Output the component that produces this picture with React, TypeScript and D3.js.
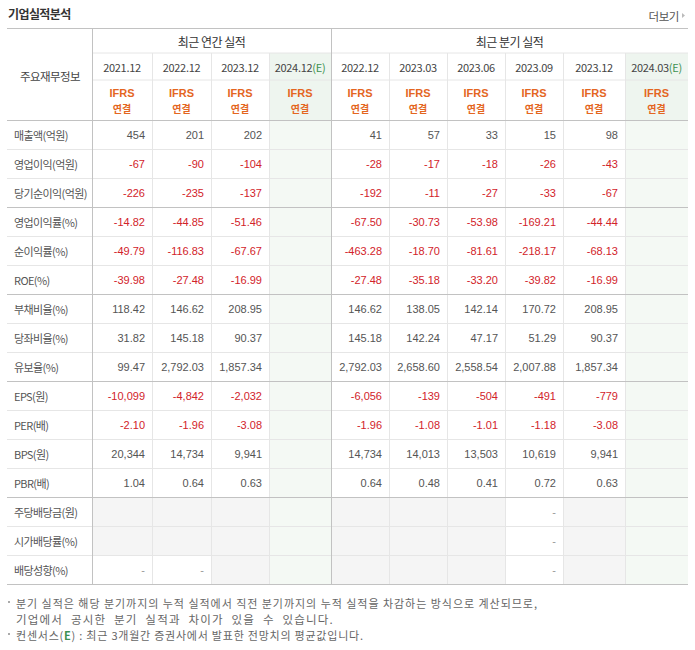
import React from 'react';
import * as d3 from 'd3';

type Cell = number | '-' | null;

const rowLabels = [
  '매출액(억원)', '영업이익(억원)', '당기순이익(억원)',
  '영업이익률(%)', '순이익률(%)', 'ROE(%)',
  '부채비율(%)', '당좌비율(%)', '유보율(%)',
  'EPS(원)', 'PER(배)', 'BPS(원)', 'PBR(배)',
  '주당배당금(원)', '시가배당률(%)', '배당성향(%)',
];
const rowDecimals = [0, 0, 0, 2, 2, 2, 2, 2, 2, 0, 2, 0, 2, 0, 2, 2];
const dividendRows = ['주당배당금(원)', '시가배당률(%)', '배당성향(%)'];

const annualPeriods = ['2021.12', '2022.12', '2023.12', '2024.12'];
const annualEstimate = [false, false, false, true];
const quarterPeriods = ['2022.12', '2023.03', '2023.06', '2023.09', '2023.12', '2024.03'];
const quarterEstimate = [false, false, false, false, false, true];

const annualValues: Cell[][] = [
  [454, 201, 202, null],
  [-67, -90, -104, null],
  [-226, -235, -137, null],
  [-14.82, -44.85, -51.46, null],
  [-49.79, -116.83, -67.67, null],
  [-39.98, -27.48, -16.99, null],
  [118.42, 146.62, 208.95, null],
  [31.82, 145.18, 90.37, null],
  [99.47, 2792.03, 1857.34, null],
  [-10099, -4842, -2032, null],
  [-2.10, -1.96, -3.08, null],
  [20344, 14734, 9941, null],
  [1.04, 0.64, 0.63, null],
  [null, null, null, null],
  [null, null, null, null],
  ['-', '-', null, null],
];

const quarterValues: Cell[][] = [
  [41, 57, 33, 15, 98, null],
  [-28, -17, -18, -26, -43, null],
  [-192, -11, -27, -33, -67, null],
  [-67.50, -30.73, -53.98, -169.21, -44.44, null],
  [-463.28, -18.70, -81.61, -218.17, -68.13, null],
  [-27.48, -35.18, -33.20, -39.82, -16.99, null],
  [146.62, 138.05, 142.14, 170.72, 208.95, null],
  [145.18, 142.24, 47.17, 51.29, 90.37, null],
  [2792.03, 2658.60, 2558.54, 2007.88, 1857.34, null],
  [-6056, -139, -504, -491, -779, null],
  [-1.96, -1.08, -1.01, -1.18, -3.08, null],
  [14734, 14013, 13503, 10619, 9941, null],
  [0.64, 0.48, 0.41, 0.72, 0.63, null],
  [null, null, null, '-', null, null],
  [null, null, null, '-', null, null],
  [null, null, null, '-', null, null],
];

const titleText = '기업실적분석';
const moreText = '더보기';
const headerLabel = '주요재무정보';
const annualGroupTitle = '최근 연간 실적';
const quarterGroupTitle = '최근 분기 실적';
const basisLine1 = 'IFRS';
const basisLine2 = '연결';
const footnote1 = '분기 실적은 해당 분기까지의 누적 실적에서 직전 분기까지의 누적 실적을 차감하는 방식으로 계산되므로,';
const footnote2 = '기업에서 공시한 분기 실적과 차이가 있을 수 있습니다.';
const footnote3a = '컨센서스(';
const footnote3b = 'E';
const footnote3c = ') : 최근 3개월간 증권사에서 발표한 전망치의 평균값입니다.';

// ---- layout ----
const W = 695;
const H = 650;
const tableLeft = 7;
const tableRight = 688;
const labelRight = 92;
const colEdges = [92, 152, 211, 269, 331, 389, 447, 505, 563, 625, 688];
const headTop = 28.5;
const head1 = 53;
const head2 = 80;
const bodyTop = 120;
const bodyBottom = 584;
const groupSizes = [3, 3, 3, 4, 3];

const KR = "'Noto Sans CJK KR', 'Noto Sans', sans-serif";
const NUM = "'Liberation Sans', Arial, sans-serif";
const C_MAJOR = '#c2c2c2';
const C_MINOR = '#e6e6e6';
const C_EST_HEAD = '#eef5ef';
const C_EST_BODY = '#f4f9f4';
const C_DIV = '#f5f5f5';
const C_POS = '#555555';
const C_NEG = '#d2232a';
const C_IFRS = '#e4661f';
const C_E = '#3d9150';

const locale = d3.formatLocale({ decimal: '.', thousands: ',', grouping: [3], currency: ['', ''], minus: '-' });
const fmt0 = locale.format(',.0f');
const fmt2 = locale.format(',.2f');

interface Col { key: string; period: string; est: boolean; values: Cell[] }

export default function App() {
  const cols: Col[] = [
    ...annualPeriods.map((p, i) => ({ key: 'A' + i, period: p, est: annualEstimate[i], values: annualValues.map(r => r[i]) })),
    ...quarterPeriods.map((p, i) => ({ key: 'Q' + i, period: p, est: quarterEstimate[i], values: quarterValues.map(r => r[i]) })),
  ];
  const keys = cols.map(c => c.key);
  const xL = d3.scaleOrdinal<string, number>().domain(keys).range(colEdges.slice(0, -1));
  const xR = d3.scaleOrdinal<string, number>().domain(keys).range(colEdges.slice(1));
  const y = d3.scaleBand<string>().domain(rowLabels).range([bodyTop, bodyBottom]);
  const bw = y.bandwidth();

  const majorRowLines: number[] = [];
  let acc = 0;
  groupSizes.forEach(g => { acc += g; majorRowLines.push(bodyTop + acc * bw); });

  const annualMid = (colEdges[0] + colEdges[4]) / 2;
  const quarterMid = (colEdges[4] + colEdges[10]) / 2;

  return (
    <svg width={W} height={H} style={{ position: 'absolute', left: 0, top: 0, background: '#fff' }}>
      {/* title */}
      <text x={8} y={19} fontFamily={KR} fontSize={12} fontWeight={700} fill="#333" letterSpacing={-0.6}>{titleText}</text>
      <text x={679} y={21} fontFamily={KR} fontSize={11.5} fill="#555" textAnchor="end" letterSpacing={-0.4}>{moreText}</text>
      <path d="M682,13 L685,15.5 L682,18 Z" fill="#bbb" />

      {/* backgrounds */}
      {cols.map(c => c.est && (
        <g key={'estbg' + c.key}>
          <rect x={xL(c.key)} y={head1} width={xR(c.key) - xL(c.key)} height={bodyTop - head1} fill={C_EST_HEAD} />
          <rect x={xL(c.key)} y={bodyTop} width={xR(c.key) - xL(c.key)} height={bodyBottom - bodyTop} fill={C_EST_BODY} />
        </g>
      ))}
      {dividendRows.map(r => {
        const ri = rowLabels.indexOf(r);
        return cols.map(c => (!c.est && c.values[ri] === null) ? (
          <rect key={'dbg' + r + c.key} x={xL(c.key)} y={y(r)} width={xR(c.key) - xL(c.key)} height={bw} fill={C_DIV} />
        ) : null);
      })}

      {/* minor lines */}
      <line x1={labelRight} x2={tableRight} y1={head1} y2={head1} stroke={C_MINOR} />
      <line x1={labelRight} x2={tableRight} y1={head2} y2={head2} stroke={C_MINOR} />
      {rowLabels.map((r, i) => i > 0 && !majorRowLines.includes(y(r)!) ? (
        <line key={'rl' + r} x1={tableLeft} x2={tableRight} y1={y(r)! + 0.5} y2={y(r)! + 0.5} stroke={C_MINOR} />
      ) : null)}
      {cols.map((c, i) => (i > 0 && c.key !== 'Q0') ? (
        <line key={'cl' + c.key} x1={xL(c.key) + 0.5} x2={xL(c.key) + 0.5} y1={head1} y2={bodyBottom} stroke={C_MINOR} />
      ) : null)}

      {/* major lines */}
      <line x1={tableLeft} x2={tableRight} y1={headTop} y2={headTop} stroke={C_MAJOR} />
      <line x1={tableLeft} x2={tableRight} y1={bodyTop + 0.5} y2={bodyTop + 0.5} stroke={C_MAJOR} />
      {majorRowLines.map((v, i) => (
        <line key={'ml' + i} x1={tableLeft} x2={tableRight} y1={v + 0.5} y2={v + 0.5} stroke={C_MAJOR} />
      ))}
      <line x1={labelRight + 0.5} x2={labelRight + 0.5} y1={headTop} y2={bodyBottom} stroke={C_MAJOR} />
      <line x1={xL('Q0') + 0.5} x2={xL('Q0') + 0.5} y1={headTop} y2={bodyBottom} stroke={C_MAJOR} />

      {/* header texts */}
      <text x={50} y={76} fontFamily={KR} fontSize={11.5} fill="#444" textAnchor="middle" dominantBaseline="central" letterSpacing={-0.6}>{headerLabel}</text>
      <text x={annualMid} y={41} fontFamily={KR} fontSize={12} fill="#333" textAnchor="middle" dominantBaseline="central" letterSpacing={-0.5}>{annualGroupTitle}</text>
      <text x={quarterMid} y={41} fontFamily={KR} fontSize={12} fill="#333" textAnchor="middle" dominantBaseline="central" letterSpacing={-0.5}>{quarterGroupTitle}</text>
      {cols.map(c => {
        const cx = (xL(c.key) + xR(c.key)) / 2;
        return (
          <g key={'h' + c.key}>
            <text x={cx} y={67} fontFamily={KR} fontSize={11} fill="#444" textAnchor="middle" dominantBaseline="central" letterSpacing={-0.3}>
              {c.period}{c.est ? <tspan fill={C_E}>(E)</tspan> : null}
            </text>
            <text x={cx} y={93} fontFamily={NUM} fontSize={11} fontWeight={700} fill={C_IFRS} textAnchor="middle" dominantBaseline="central">{basisLine1}</text>
            <text x={cx} y={108} fontFamily={KR} fontSize={10} fontWeight={700} fill={C_IFRS} textAnchor="middle" dominantBaseline="central">{basisLine2}</text>
          </g>
        );
      })}

      {/* row labels */}
      {rowLabels.map(r => (
        <text key={'lab' + r} x={14} y={y(r)! + bw / 2 + 0.5} fontFamily={KR} fontSize={11} fill="#555" dominantBaseline="central" letterSpacing={-0.6}>{r}</text>
      ))}

      {/* values */}
      {cols.map(c => c.values.map((v, ri) => {
        if (v === null) return null;
        const label = rowLabels[ri];
        const txt = v === '-' ? '-' : (rowDecimals[ri] === 2 ? fmt2(v) : fmt0(v));
        const neg = typeof v === 'number' && v < 0;
        return (
          <text key={'v' + c.key + ri} x={xR(c.key) - 7} y={y(label)! + bw / 2 + 0.5} fontFamily={NUM} fontSize={11}
            fill={neg ? C_NEG : (v === '-' ? '#999' : C_POS)} textAnchor="end" dominantBaseline="central">{txt}</text>
        );
      }))}

      {/* footnotes */}
      <rect x={8} y={601} width={2} height={2} fill="#aaa" />
      <text x={16} y={603} fontFamily={KR} fontSize={11} fill="#666" dominantBaseline="central" textLength={521} lengthAdjust="spacing">{footnote1}</text>
      <text x={16} y={619} fontFamily={KR} fontSize={11.5} fill="#666" dominantBaseline="central" wordSpacing={4} letterSpacing={1.2}>{footnote2}</text>
      <rect x={8} y={633} width={2} height={2} fill="#aaa" />
      <text x={16} y={635} fontFamily={KR} fontSize={11} fill="#666" dominantBaseline="central" textLength={347} lengthAdjust="spacing">
        {footnote3a}<tspan fill={C_E} fontWeight={700}>{footnote3b}</tspan>{footnote3c}
      </text>
    </svg>
  );
}
